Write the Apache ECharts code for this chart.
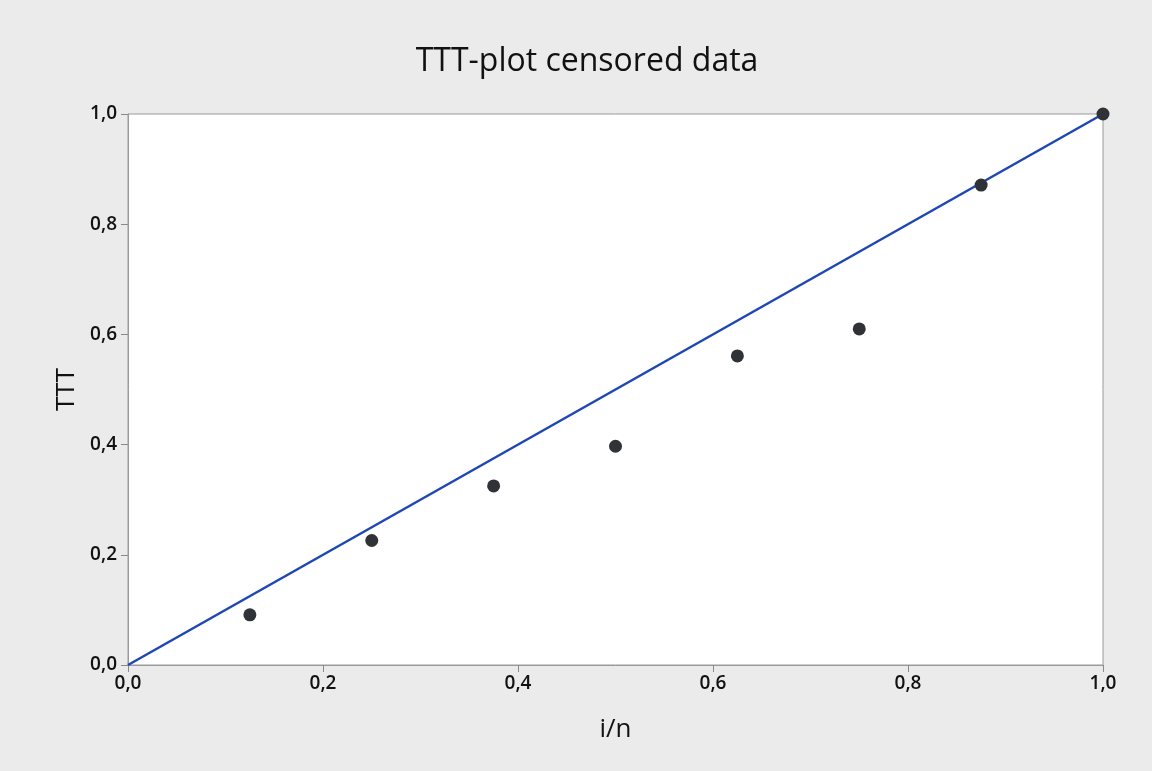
<!DOCTYPE html>
<html>
<head>
<meta charset="utf-8">
<script src="https://cdn.jsdelivr.net/npm/echarts@6/dist/echarts.min.js"></script>
<style>
  html, body { margin: 0; padding: 0; background: #ebebeb; }
  #main { width: 1152px; height: 771px; }
</style>
</head>
<body>
<div id="main"></div>
<script>
// points
var inValues = [0.125, 0.25, 0.375, 0.5, 0.625, 0.75, 0.875, 1.0];
var tttValues = [0.091, 0.226, 0.325, 0.397, 0.561, 0.610, 0.871, 1.0];
// reference diagonal
var diagX = [0, 1];
var diagY = [0, 1];

var pts = [];
for (var i = 0; i < inValues.length; i++) {
  pts.push([inValues[i], tttValues[i]]);
}
var diag = [[diagX[0], diagY[0]], [diagX[1], diagY[1]]];

var chart = echarts.init(document.getElementById('main'));
var fmt = function (v) { return v.toFixed(1).replace('.', ','); };

var option = {
  backgroundColor: '#ebebeb',
  textStyle: { fontFamily: 'Open Sans' },
  title: {
    text: 'TTT-plot censored data',
    left: 582,
    top: 41,
    textAlign: 'center',
    textStyle: { fontSize: 32, fontWeight: 'normal', color: '#111', fontFamily: 'Open Sans' }
  },
  grid: {
    left: 128, right: 49, top: 114, bottom: 106,
    show: true, backgroundColor: '#ffffff', borderColor: '#9a9a9a', borderWidth: 1
  },
  xAxis: {
    type: 'value', min: 0, max: 1, interval: 0.2,
    name: 'i/n', nameLocation: 'middle', nameGap: 52,
    nameTextStyle: { fontSize: 26, color: '#111' },
    axisLine: { show: true, lineStyle: { color: '#9a9a9a' } },
    axisTick: { show: true, length: 7, lineStyle: { color: '#8a8a8a' } },
    axisLabel: { fontSize: 19, fontWeight: 600, color: '#111', margin: 9, formatter: fmt },
    splitLine: { show: false }
  },
  yAxis: {
    type: 'value', min: 0, max: 1, interval: 0.2,
    name: 'TTT', nameLocation: 'middle', nameGap: 43,
    nameTextStyle: { fontSize: 26, color: '#111' },
    axisLine: { show: true, lineStyle: { color: '#9a9a9a' } },
    axisTick: { show: true, length: 7, lineStyle: { color: '#8a8a8a' } },
    axisLabel: { fontSize: 19, fontWeight: 600, color: '#111', margin: 11, formatter: fmt },
    splitLine: { show: false }
  },
  series: [
    {
      type: 'line',
      data: diag,
      symbol: 'none',
      lineStyle: { color: '#1f47b3', width: 2.5 },
      z: 2,
      silent: true
    },
    {
      type: 'scatter',
      data: pts,
      symbolSize: 13,
      itemStyle: { color: '#2f3237', opacity: 1 },
      z: 3
    }
  ]
};
chart.setOption(option);
</script>
</body>
</html>
